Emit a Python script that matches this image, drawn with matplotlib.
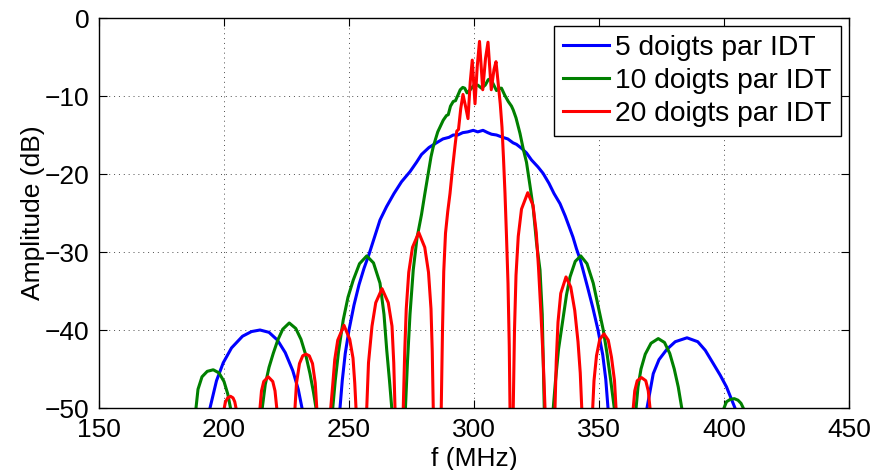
import matplotlib
matplotlib.use('Agg')
import matplotlib.pyplot as plt
import numpy as np

# values (f in MHz, amplitude in dB); -60 marks nulls below the axis
labels = ['5 doigts par IDT', '10 doigts par IDT', '20 doigts par IDT']
colors = ['#0000ff', '#008000', '#ff0000']
xticks = [150, 200, 250, 300, 350, 400, 450]
yticks = [-50, -40, -30, -20, -10, 0]

blue_pts = [
    (185, -60), (190.5, -60), (194.4, -50), (197, -46.5), (199.7, -44.2), (203, -42.3),
    (207.4, -40.8), (211, -40.2), (214.4, -40.0), (218, -40.3), (221.4, -41.3), (224.5, -42.9),
    (227.5, -45.2), (229.7, -47.6), (231.2, -50), (236.5, -60),
    (241, -60), (246.4, -50), (247.3, -46.5), (248.5, -43.0), (250, -40.0), (252, -36.8),
    (254, -34.2), (256, -32.1), (258, -30.3), (260.3, -28.0), (262.4, -25.9), (265, -24.2),
    (268, -22.5), (271, -21.0), (274.4, -19.7), (277, -18.5), (279, -17.5), (282, -16.6),
    (285, -16.0), (287.6, -15.5), (290, -15.3), (291.7, -15.0), (293.5, -15.0), (295.5, -14.7),
    (297.5, -14.6), (299.7, -14.4), (301.5, -14.6), (303.6, -14.4), (305.5, -14.7), (307, -14.9),
    (309, -15.0), (311.5, -15.3), (313.5, -15.5), (315.6, -16.0), (317, -16.2), (319, -16.7),
    (321, -17.3), (323, -18.2), (325.6, -19.1), (327.6, -19.9), (330, -21.2), (332, -22.5),
    (334.4, -23.8), (336.5, -25.4), (338, -26.7), (339.6, -28.1), (341, -29.6), (342.5, -31.0),
    (343.6, -32.3), (345.5, -34.6), (347.5, -37.1), (349.6, -40.0), (351.5, -43.2), (352.7, -46.3),
    (353.6, -50), (358, -60),
    (364, -60), (369.2, -50), (371.7, -45.6), (374, -43.8), (377.1, -42.5), (380.5, -41.5),
    (385.2, -41.0), (389.5, -41.5), (392.5, -42.6), (395.7, -44.3), (398.5, -45.8), (401, -47.3),
    (404.4, -50), (409, -60), (415, -60),
]

green_pts = [
    (182, -60), (188.8, -50), (189.6, -47.6), (191.2, -46.0), (193.3, -45.3), (195.7, -45.1),
    (198.0, -45.5), (200.0, -46.6), (201.5, -48.2), (202.6, -50), (207, -60),
    (211, -60), (215.3, -50), (216.5, -47.0), (218.0, -44.8), (219.7, -43.0), (221.5, -41.3),
    (223.5, -39.9), (226.1, -39.1), (228.7, -39.8), (230.8, -41.2), (232.7, -43.2), (234.4, -45.6),
    (235.8, -48.0), (236.8, -50), (239.5, -60),
    (241, -60), (243.5, -50), (244.5, -46.5), (245.8, -42.8), (247.7, -38.7), (249.6, -35.8),
    (251.7, -33.6), (254.2, -31.5), (257.1, -30.5), (259.8, -31.4), (262.4, -34.0), (264.0, -38.0),
    (265.1, -42.6), (266.2, -46.5), (267.1, -50), (269.5, -60),
    (271.2, -60), (272.6, -50), (273.4, -44.0), (274.4, -38.0), (275.7, -32.3), (277.2, -28.2),
    (279.0, -25.2), (280.3, -22.6), (281.7, -19.9), (282.8, -17.8), (283.7, -16.5), (285.5, -14.6),
    (287.7, -13.1), (289.0, -12.5), (289.7, -12.4), (290.6, -11.3), (291.7, -10.7), (292.6, -10.6),
    (293.4, -10.0), (294.5, -9.2), (295.5, -8.9), (296.3, -9.0), (297.2, -9.6), (298.5, -9.2),
    (300.0, -8.6), (301.5, -8.6), (303.0, -9.0), (304.5, -8.6), (305.7, -7.9), (306.6, -7.8),
    (307.6, -8.4), (309.0, -9.3), (310.3, -9.0), (311.0, -9.0), (312.3, -9.9), (313.7, -10.7),
    (315.0, -11.3), (315.7, -11.8), (316.8, -12.8), (318.4, -14.8), (319.7, -16.8), (321.0, -18.5),
    (322.4, -21.5), (323.7, -24.4), (325.0, -28.8), (326.4, -32.3), (327.3, -38.0), (328.1, -50),
    (329.5, -60),
    (330.5, -60), (331.7, -50), (332.6, -46.5), (333.8, -42.5), (335.7, -38.3), (337.0, -35.5),
    (338.4, -33.2), (340.5, -31.2), (342.7, -30.5), (345.2, -31.5), (347.7, -34.0), (349.7, -37.0),
    (351.7, -40.0), (353.2, -43.0), (354.7, -46.5), (356.1, -50), (359, -60),
    (362, -60), (364.8, -50), (365.6, -47.3), (366.8, -45.0), (368.5, -43.1), (370.8, -41.7),
    (373.7, -41.1), (376.2, -41.6), (378.3, -43.0), (380.1, -45.0), (381.7, -47.3), (383.1, -50),
    (386, -60),
    (397, -60), (400.0, -50), (401.0, -49.2), (402.5, -48.9), (404.1, -48.8), (405.6, -49.0),
    (406.8, -49.4), (407.7, -50), (410, -60), (415, -60),
]

red_pts = [
    (197, -60), (200.1, -50), (200.6, -49.2), (201.5, -48.7), (202.6, -48.5), (203.6, -48.7),
    (204.3, -49.2), (204.8, -50), (207, -60),
    (212, -60), (214.4, -50), (215.0, -47.8), (215.9, -46.6), (217.7, -46.0), (219.5, -46.6),
    (220.4, -47.8), (221.1, -50), (223, -60),
    (226.5, -60), (228.4, -50), (229.0, -46.8), (230.2, -44.3), (231.5, -43.3), (232.8, -43.1),
    (234.1, -43.3), (235.4, -44.3), (236.5, -46.8), (237.1, -50), (239, -60),
    (241, -60), (242.7, -50), (243.5, -47.0), (244.3, -43.8), (245.5, -41.3), (248.0, -39.4),
    (250.3, -41.2), (251.6, -43.6), (252.3, -46.8), (252.8, -50), (254.5, -60),
    (255.6, -60), (257.1, -50), (257.8, -44.2), (259.2, -39.5), (260.7, -36.5), (263.2, -34.7),
    (265.7, -36.5), (267.2, -39.5), (267.9, -44.2), (268.4, -50), (270, -60),
    (270.5, -60), (271.7, -50), (272.3, -42.7), (272.9, -37.3), (273.9, -32.6), (275.4, -29.4),
    (277.9, -27.5), (280.3, -29.4), (281.8, -32.6), (282.8, -37.3), (283.3, -42.7), (283.7, -50),
    (285.3, -60),
    (286.3, -60), (286.9, -50), (287.4, -40.0), (287.9, -32.5), (288.6, -27.6), (289.5, -24.8),
    (290.4, -22.5), (291.4, -19.3), (292.4, -16.4), (293.1, -14.5), (293.8, -14.3), (294.7, -11.6),
    (295.6, -9.8), (296.6, -11.3), (297.6, -12.9), (298.5, -8.2), (299.3, -5.4), (300.4, -11.0),
    (301.3, -6.2), (302.2, -3.0), (303.5, -9.2), (304.6, -5.2), (305.6, -3.1), (306.9, -9.2),
    (308.0, -6.6), (308.8, -5.6), (309.7, -8.5), (310.5, -11.0), (311.2, -14.0), (311.8, -18.0),
    (312.4, -22.5), (313.0, -28.0), (313.6, -34.0), (314.1, -42.0), (314.4, -50), (315.0, -60),
    (315.3, -60), (315.7, -50), (316.2, -40.0), (316.8, -33.0), (317.7, -28.0), (319.0, -24.5),
    (321.5, -22.4), (323.6, -24.0), (324.9, -27.5), (325.8, -32.0), (326.8, -38.0), (327.7, -44.0),
    (328.4, -50), (330, -60),
    (331.2, -60), (332.4, -50), (332.9, -44.0), (333.6, -39.0), (334.7, -35.3), (336.8, -33.2),
    (338.7, -34.5), (340.3, -37.5), (341.6, -41.5), (342.5, -45.5), (343.1, -50), (345, -60),
    (346, -60), (347.5, -50), (348.0, -46.5), (349.0, -43.3), (350.3, -41.2), (352.0, -40.5),
    (353.7, -41.3), (355.0, -43.5), (356.2, -46.5), (356.8, -50), (359, -60),
    (362, -60), (363.7, -50), (364.3, -47.8), (365.3, -46.5), (367.0, -46.1), (368.7, -46.5),
    (369.7, -47.8), (370.4, -50), (373, -60),
]

plt.rcParams['font.family'] = ['Liberation Sans', 'DejaVu Sans']
plt.rcParams['font.size'] = 19

fig = plt.figure(figsize=(8.73, 4.70), dpi=100)
ax = fig.add_axes([99 / 873, 62 / 470, 750 / 873, 390 / 470])

for pts, lab, col in zip([blue_pts, green_pts, red_pts], labels, colors):
    f, a = np.array(pts).T
    ax.plot(f, a, color=col, lw=2.2, label=lab, solid_joinstyle='round')

ax.set_xlim(150, 450)
ax.set_ylim(-50, 0)
ax.set_xticks(xticks)
ax.set_yticks(yticks)
ax.grid(True, color='0.3', linestyle=(0, (1, 4)), linewidth=0.7)
ax.tick_params(direction='in', length=6, width=0.8, top=True, right=True, pad=7)
for s in ax.spines.values():
    s.set_linewidth(1.0)

ax.set_xlabel('f (MHz)')
ax.set_ylabel('Amplitude (dB)')
ax.xaxis.set_label_coords(0.5, -0.1)
ax.yaxis.set_label_coords(-0.072, 0.5)

leg = ax.legend(loc='upper right', bbox_to_anchor=(0.989, 0.979), borderaxespad=0,
                fancybox=False, framealpha=1, edgecolor='black', handlelength=1.62,
                handletextpad=0.22, labelspacing=0.25, borderpad=0.32, fontsize=20.3)
leg.get_frame().set_linewidth(1.0)

fig.savefig('out.png', dpi=100)
